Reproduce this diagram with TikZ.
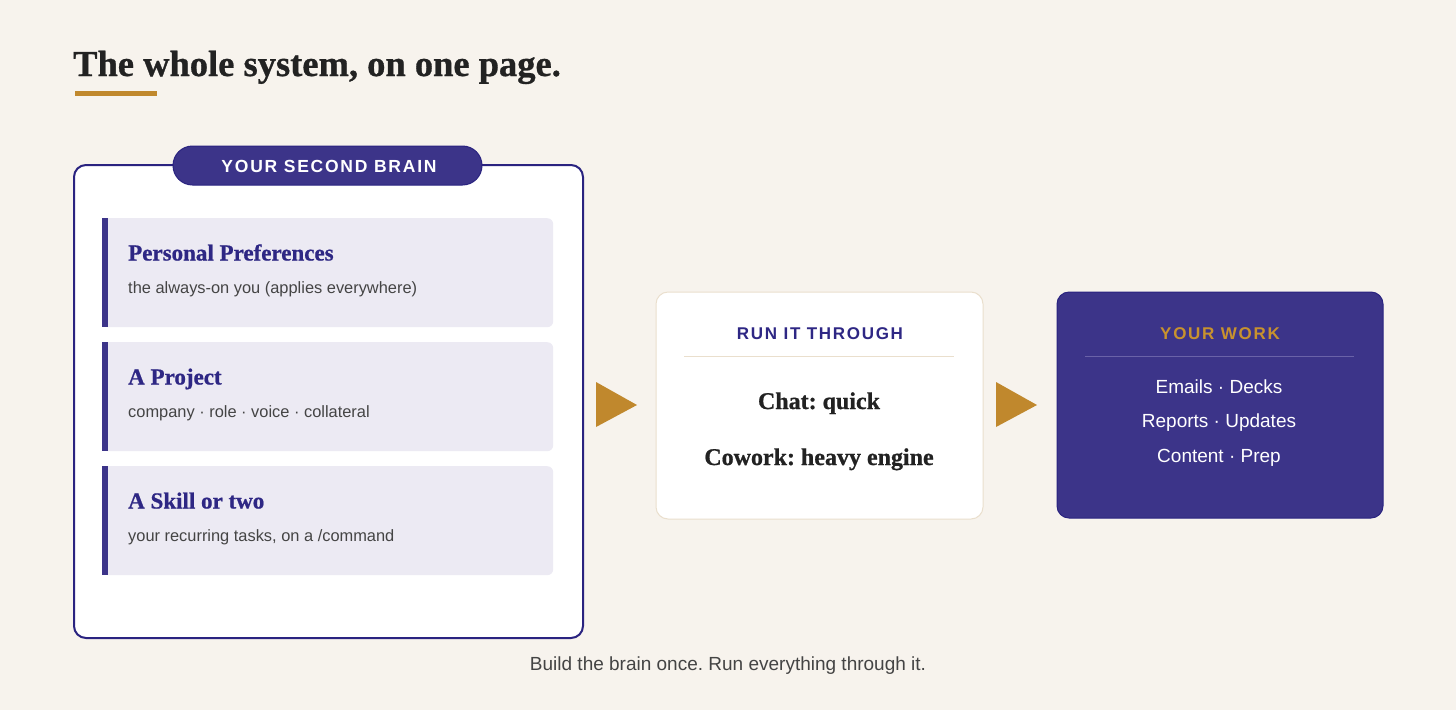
\documentclass[tikz,border=0pt]{standalone}
\usepackage{fontspec}
\setmainfont{Liberation Serif}[BoldFeatures={FakeBold=0.8}]
\setsansfont{Liberation Sans}
\newfontfamily\capsfont[LetterSpace=10]{Liberation Sans}
\frenchspacing
\definecolor{bgcol}{HTML}{F7F3ED}
\definecolor{navy}{HTML}{3C3489}
\definecolor{navyline}{HTML}{2A2380}
\definecolor{navytext}{HTML}{2E2784}
\definecolor{cardfill}{HTML}{ECEAF3}
\definecolor{gold}{HTML}{C0882D}
\definecolor{goldtext}{HTML}{C8922E}
\definecolor{graytext}{HTML}{444444}
\definecolor{darktext}{HTML}{222222}
\definecolor{beige}{HTML}{EADFCD}
\definecolor{ruleviolet}{HTML}{6A62A8}
\tikzset{
  cardbox/.style={fill=cardfill, rounded corners=6, inner sep=0pt, anchor=north west},
  cardbar/.style={fill=navy},
  cardtitle/.style={anchor=base west, inner sep=0pt, text=navytext, font=\fontsize{23}{27}\selectfont\bfseries},
  cardsub/.style={anchor=base west, inner sep=0pt, text=graytext, font=\sffamily\fontsize{16.4}{20}\selectfont},
  captxt/.style={anchor=base, inner sep=0pt, font=\capsfont\fontsize{17}{20}\selectfont\bfseries},
  bigserif/.style={anchor=base, inner sep=0pt, text=darktext, font=\fontsize{24}{28}\selectfont\bfseries},
  worktxt/.style={anchor=base, inner sep=0pt, text=white, font=\sffamily\fontsize{19}{23}\selectfont},
  arrowtri/.style={fill=gold},
}
\begin{document}
\begin{tikzpicture}[x=1pt,y=-1pt]
\useasboundingbox (0,0) rectangle (1456,710);
\fill[bgcol] (0,0) rectangle (1456,710);
% title
\node[anchor=base west, inner sep=0pt, text=darktext, font=\fontsize{36.5}{42}\selectfont\bfseries] (title) at (73,76) {The whole system, on one page.};
\fill[gold] (75,91) rectangle (157,95.5);
% big box
\node[draw=navyline, line width=2pt, fill=white, rounded corners=12, minimum width=509pt, minimum height=473pt, anchor=north west, inner sep=0pt] (brain) at (73,164) {};
\node[fill=navy, draw=navyline, line width=1pt, rounded corners=19.5, minimum width=309pt, minimum height=39pt, inner sep=0pt] (pill) at (327.5,165.5) {};
\node[captxt, text=white, font=\capsfont\fontsize{17.5}{20}\selectfont\bfseries] (pilltxt) at (329,172.5) {YOUR SECOND BRAIN};
% cards
\foreach \n/\y/\t/\s in {1/218/Personal Preferences/the always-on you (applies everywhere),
                         2/342/A Project/company · role · voice · collateral,
                         3/466/A Skill or two/{your recurring tasks, on a /command}} {
  \node[cardbox, minimum width=451pt, minimum height=109pt] (card\n) at (102,\y) {};
  \fill[cardbar] (102,\y) rectangle (107.5,\y+109);
  \node[cardtitle] (ct\n) at (128,\y+42.5) {\t};
  \node[cardsub] (cs\n) at (128,\y+75.5) {\s};
}
% arrows
\fill[arrowtri] (596,382) -- (637,405) -- (596,427) -- cycle;
\fill[arrowtri] (996,382) -- (1037,405) -- (996,427) -- cycle;
% middle box
\node[draw=beige, line width=1pt, fill=white, rounded corners=12, minimum width=327pt, minimum height=227pt, anchor=north west, inner sep=0pt] (run) at (655.5,291.5) {};
\node[captxt, text=navytext] (runtitle) at (820,339) {RUN IT THROUGH};
\draw[beige, line width=1.2pt] (684,356.5) -- (954,356.5);
\node[bigserif] (chat) at (819,409) {Chat: quick};
\node[bigserif] (cowork) at (819,465) {Cowork: heavy engine};
% right box
\node[draw=navyline, line width=1pt, fill=navy, rounded corners=12, minimum width=326pt, minimum height=226pt, anchor=north west, inner sep=0pt] (work) at (1056.5,291.5) {};
\node[captxt, text=goldtext] (worktitle) at (1220,339) {YOUR WORK};
\draw[ruleviolet, line width=1.2pt] (1085,356.5) -- (1354,356.5);
\node[worktxt] (w1) at (1219,393.5) {Emails · Decks};
\node[worktxt] (w2) at (1219,427.5) {Reports · Updates};
\node[worktxt] (w3) at (1219,462.5) {Content · Prep};
% footer
\node[anchor=base, inner sep=0pt, text=graytext, font=\sffamily\fontsize{19}{23}\selectfont] (footer) at (728,670) {Build the brain once. Run everything through it.};
\end{tikzpicture}
\end{document}
